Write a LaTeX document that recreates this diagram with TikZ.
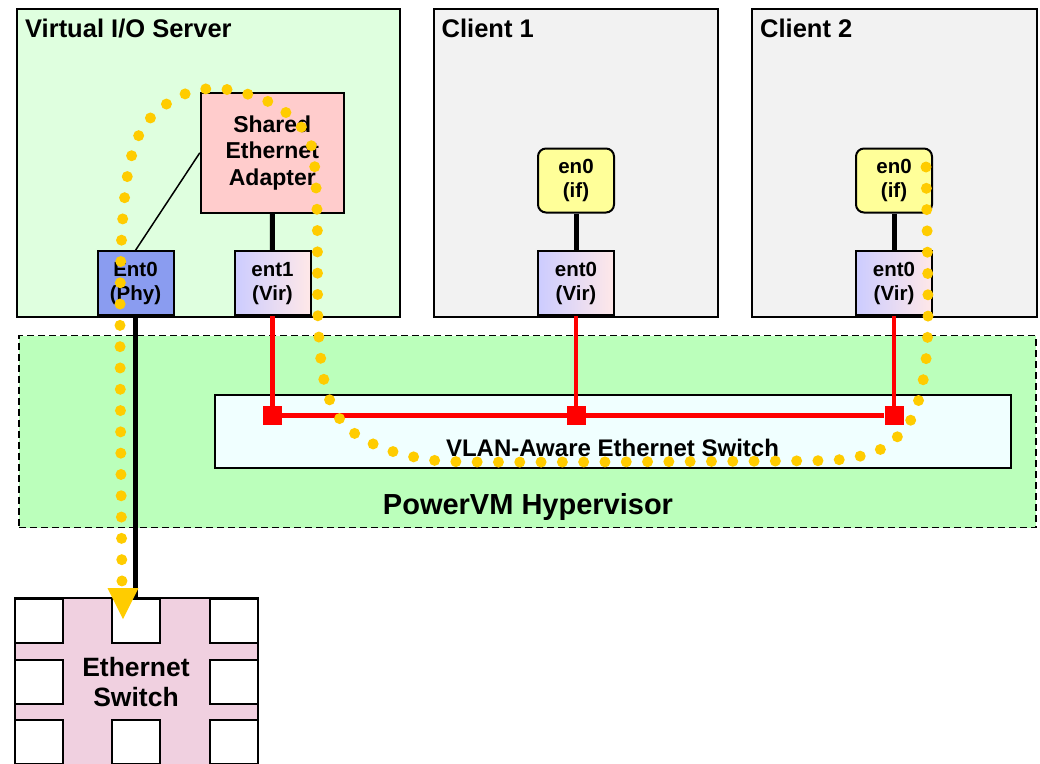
\documentclass[tikz,border=0pt]{standalone}
\usepackage{fontspec}
\setmainfont{Liberation Sans}
\usetikzlibrary{positioning}

\definecolor{viosgreen}{HTML}{DFFFDF}
\definecolor{clientgray}{HTML}{F2F2F2}
\definecolor{hypgreen}{HTML}{BBFFBB}
\definecolor{vswfill}{HTML}{F0FFFF}
\definecolor{seapink}{HTML}{FFCCCC}
\definecolor{phyblue}{HTML}{8A9CF0}
\definecolor{virleft}{HTML}{CCCCFF}
\definecolor{virright}{HTML}{FFE8E8}
\definecolor{ifyellow}{HTML}{FFFF99}
\definecolor{swpink}{HTML}{F0D0E0}
\definecolor{flowyellow}{HTML}{FFCC00}

\newcommand{\fsz}[1]{\bfseries\fontsize{#1}{1.15\dimexpr#1pt\relax}\selectfont}

\tikzset{
  lpar/.style={draw, line width=2pt, inner sep=0pt},
  title/.style={anchor=base west, inner sep=0pt, font=\fsz{25.5}},
  adapter/.style={draw, line width=2pt, minimum width=76pt, minimum height=64pt,
    inner sep=0pt, align=center, font=\fsz{20.5}},
  viradapter/.style={adapter, left color=virleft, right color=virright},
  ifbox/.style={adapter, fill=ifyellow, rounded corners=8pt},
  port/.style={fill=red, minimum size=19pt, inner sep=0pt},
  link/.style={line width=5pt},
  vlanline/.style={red, line width=4.6pt},
  flow/.style={flowyellow, line width=11pt, line cap=round, dash pattern=on 0pt off 21.3pt},
}

\begin{document}
\begin{tikzpicture}[x=1pt, y=-1pt]
\clip (0,0) rectangle (1040,763);

\node[lpar, fill=viosgreen, minimum width=383pt, minimum height=308pt] (vios) at (208,162.5) {};
\node[lpar, fill=clientgray, minimum width=284pt, minimum height=308pt] (clienta) at (575.5,162.5) {};
\node[lpar, fill=clientgray, minimum width=285pt, minimum height=308pt] (clientb) at (894,162.5) {};
\node[title] at (25,37.5) {Virtual I/O Server};
\node[title] at (441.5,37.5) {Client 1};
\node[title] at (760,37.5) {Client 2};

\node[draw, line width=1.5pt, dash pattern=on 7pt off 4pt, fill=hypgreen,
  minimum width=1017pt, minimum height=192pt] (hyp) at (527.5,431.5) {};
\node[anchor=base, inner sep=0pt, font=\fsz{29}] at (528,514) {PowerVM Hypervisor};
\node[lpar, fill=vswfill, minimum width=796pt, minimum height=73pt] (vsw) at (612.5,431) {};
\node[anchor=base, inner sep=0pt, font=\fsz{24}] at (612.5,456.5) {VLAN-Aware Ethernet Switch};

\node[adapter, fill=seapink, minimum width=143pt, minimum height=120pt, font=\fsz{23}] (sea) at (272.3,152.8) {Shared\\Ethernet\\Adapter};
\node[adapter, fill=phyblue] (entphy) at (135.5,283.3) {Ent0\\(Phy)};
\node[viradapter] (entvir) at (272.5,283.3) {ent1\\(Vir)};
\node[ifbox] (ifa) at (576,180.5) {en0\\(if)};
\node[viradapter] (enta) at (576,283.3) {ent0\\(Vir)};
\node[ifbox] (ifb) at (894,180.5) {en0\\(if)};
\node[viradapter] (entb) at (894,283.3) {ent0\\(Vir)};

\node[port] (pv) at (272.5,415.5) {};
\node[port] (pa) at (576,415.5) {};
\node[port] (pb) at (894,415.5) {};

\node[lpar, fill=swpink, minimum width=243pt, minimum height=168pt,
  align=center, font=\fsz{26.5}] (extsw) at (136,682) {Ethernet\\Switch};
\foreach \sx/\sy in {38.5/620.5, 136/620.5, 233.5/620.5, 38.5/681.5, 233.5/681.5, 38.5/742, 136/742, 233.5/742}
  \node[lpar, fill=white, minimum width=48pt, minimum height=44pt] at (\sx,\sy) {};

\draw[link] (sea) -- (entvir);
\draw[link] (ifa) -- (enta);
\draw[link] (ifb) -- (entb);
\draw[line width=1.5pt] (entphy.north) -- (sea.west);
\draw[link] (entphy) -- (entphy |- extsw.north);

\draw[vlanline] (entvir) -- (pv);
\draw[vlanline] (enta) -- (pa);
\draw[vlanline] (entb) -- (pb);
\draw[vlanline] (pv) -- (pb);

\draw[flow] plot[smooth, tension=0.5] coordinates {
  (926,167) (928,316) (924,375) (912,418) (885,447) (845,459) (780,461)
  (480,462) (420,458) (380,447) (350,430) (333,408) (323,375) (318,320)
  (317,210) (312,148) (295,120) (265,100) (230,90) (205,89) (180,96)
  (155,113) (138,137) (128,172) (122,230) (120,330) (122,585)};
\coordinate (flowend) at (123,588);
\fill[flowyellow] ([xshift=-15.5pt]flowend) -- ([xshift=15.5pt]flowend) -- ([yshift=-31pt]flowend) -- cycle;
\end{tikzpicture}
\end{document}
